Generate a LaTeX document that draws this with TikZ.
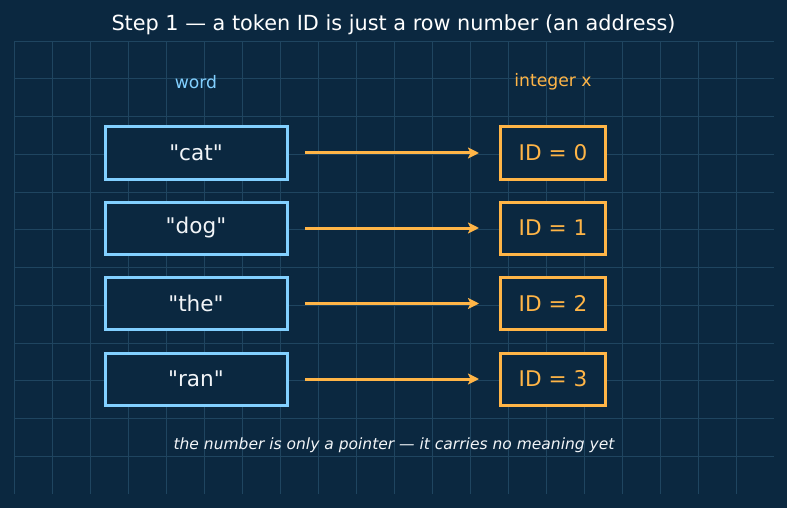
\documentclass[tikz,border=0pt]{standalone}
\usepackage{fontspec}
\setmainfont{DejaVu Sans}
\usetikzlibrary{arrows.meta,positioning}
\definecolor{TokBg}{HTML}{0B2840}
\definecolor{TokGrid}{HTML}{1F4560}
\definecolor{TokBlue}{HTML}{82D0FF}
\definecolor{TokOrange}{HTML}{FFB547}
\definecolor{TokText}{HTML}{F2F5F8}

\begin{document}
\begin{tikzpicture}[x=1pt,y=-1pt,
  wordbox/.style={draw=TokBlue,line width=3pt,fill=TokBg,minimum width=182pt,minimum height=52pt,inner sep=0pt,text=TokText,font=\fontsize{21.6}{25}\selectfont},
  idbox/.style={draw=TokOrange,line width=3pt,fill=TokBg,minimum width=105pt,minimum height=52pt,inner sep=0pt,text=TokOrange,font=\fontsize{21.6}{25}\selectfont},
  header/.style={font=\fontsize{17.2}{20}\selectfont},
  maparrow/.style={draw=TokOrange,line width=3pt,-{Stealth[length=11pt,width=11pt,inset=2.5pt]},shorten <=16.5pt,shorten >=20pt}
]
\fill[TokBg] (0,0) rectangle (787,508);
\useasboundingbox (0,0) rectangle (787,508);
% grid behind everything
\foreach \gx in {0,...,19} \draw[TokGrid,line width=0.9pt] (14+38*\gx,41) -- (14+38*\gx,494);
\foreach \gy in {0,...,11} \draw[TokGrid,line width=0.9pt] (14,41+37.75*\gy) -- (774,41+37.75*\gy);

\node[text=white,font=\fontsize{20.8}{24}\selectfont] (title) at (393.5,24.5) {Step 1 — a token ID is just a row number (an address)};
\node[header,text=TokBlue] (wordhead) at (196,82) {word};
\node[header,text=TokOrange] (idhead) at (553,82) {integer x};

\node[wordbox] (cat) at (196,153) {\textquotedbl cat\textquotedbl};
\node[wordbox] (dog) at (196,228) {\textquotedbl dog\textquotedbl};
\node[wordbox] (the) at (196,303.5) {\textquotedbl the\textquotedbl};
\node[wordbox] (ran) at (196,379) {\textquotedbl ran\textquotedbl};

\node[idbox] (id0) at (553,153) {ID = 0};
\node[idbox] (id1) at (553,228) {ID = 1};
\node[idbox] (id2) at (553,303.5) {ID = 2};
\node[idbox] (id3) at (553,379) {ID = 3};

\draw[maparrow] (cat) -- (id0);
\draw[maparrow] (dog) -- (id1);
\draw[maparrow] (the) -- (id2);
\draw[maparrow] (ran) -- (id3);

\node[text=TokText,font=\fontsize{15.5}{18}\selectfont\itshape] (note) at (394,445.5) {the number is only a pointer — it carries no meaning yet};
\end{tikzpicture}
\end{document}
